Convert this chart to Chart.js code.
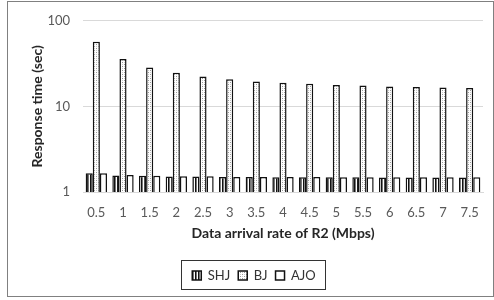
<!DOCTYPE html>
<html>
<head>
<meta charset="utf-8">
<script src="https://cdn.jsdelivr.net/npm/chart.js@4.4.1/dist/chart.umd.min.js"></script>
<style>
body{margin:0;background:#fff}
canvas{display:block}
</style>
</head>
<body>
<canvas id="c" width="494" height="300"></canvas>
<script>

/* DATA */

const rates=["0.5","1","1.5","2","2.5","3","3.5","4","4.5","5","5.5","6","6.5","7","7.5"]
const shj=[1.66,1.56,1.55,1.52,1.52,1.5,1.5,1.49,1.49,1.49,1.49,1.48,1.48,1.48,1.48]
const bj=[57,35.8,28.5,24.8,22.3,20.8,19.6,18.9,18.4,17.8,17.5,17.1,16.8,16.6,16.4]
const ajo=[1.66,1.58,1.55,1.53,1.53,1.5,1.5,1.5,1.5,1.49,1.49,1.49,1.49,1.49,1.49]
const yTicks=[1,10,100]


/* PATTERNS */

function stripes(){
let p=document.createElement("canvas")
p.width=3
p.height=1
let g=p.getContext("2d")
g.fillStyle="#fff"
g.fillRect(0,0,3,1)
g.fillStyle="#111"
g.fillRect(0,0,1,1)
g.fillStyle="#777"
g.fillRect(1,0,1,1)
return g.createPattern(p,"repeat")
}

function dots(){
let p=document.createElement("canvas")
p.width=4
p.height=4
let g=p.getContext("2d")
g.fillStyle="#fff"
g.fillRect(0,0,4,4)
g.fillStyle="#999"
g.fillRect(0,0,1,1)
g.fillRect(2,2,1,1)
g.fillStyle="#ccc"
g.fillRect(2,0,1,1)
g.fillRect(0,2,1,1)
return g.createPattern(p,"repeat")
}


/* FRAME + LEGEND BOX */

const frame={
id:"frame",
beforeDraw(chart){
let ctx=chart.ctx
ctx.save()
ctx.fillStyle="#fff"
ctx.fillRect(0,0,chart.width,chart.height)
ctx.strokeStyle="#808080"
ctx.lineWidth=1
ctx.strokeRect(7.5,1.5,486,295)
ctx.restore()
},
afterDraw(chart){
let b=chart.legend.legendHitBoxes
if(!b||!b.length)return
let l=Math.min(...b.map(h=>h.left))-11
let r=Math.max(...b.map(h=>h.left+h.width))+10
let c=b[0].top+b[0].height/2
let ctx=chart.ctx
ctx.save()
ctx.strokeStyle="#333"
ctx.lineWidth=1
ctx.strokeRect(Math.round(l)+0.5,Math.round(c-16)+0.5,Math.round(r-l),29)
ctx.restore()
}
}

const ds=(label,data,bg)=>({
label:label,
data:data,
backgroundColor:bg,
borderColor:"#111",
borderWidth:1.5,
categoryPercentage:0.8,
barPercentage:1
})

new Chart(document.getElementById("c"),{

type:"bar",

data:{
labels:rates,
datasets:[
ds("SHJ",shj,stripes()),
ds("BJ",bj,dots()),
ds("AJO",ajo,"#fff")
]
},

options:{
responsive:false,
animation:false,
layout:{
padding:{left:25,right:11,top:12,bottom:8}
},
plugins:{
legend:{
position:"bottom",
labels:{
font:{family:"Lato",size:13},
color:"#333",
boxWidth:9,
boxHeight:9,
padding:8
}
},
tooltip:{enabled:false}
},
scales:{
x:{
afterFit(axis){axis.height=69},
grid:{display:false,drawTicks:false},
border:{display:true,color:"#d9d9d9"},
ticks:{
font:{family:"Lato",size:13},
color:"#595959",
padding:13.5,
maxRotation:0,
autoSkip:false
},
title:{
display:true,
text:"Data arrival rate of R2 (Mbps)",
font:{family:"Lato",size:14,weight:"bold"},
color:"#262626",
padding:{top:5,bottom:19.6}
}
},
y:{
type:"logarithmic",
min:1,
max:100,
afterFit(axis){axis.width=58},
afterBuildTicks(axis){
axis.ticks=yTicks.map(v=>({value:v}))
},
grid:{color:"#d9d9d9",drawTicks:false},
border:{display:false},
ticks:{
font:{family:"Lato",size:13},
color:"#595959",
padding:13,
callback:v=>String(v)
},
title:{
display:true,
text:"Response time (sec)",
font:{family:"Lato",size:14,weight:"bold"},
color:"#262626",
padding:{top:4,bottom:-6}
}
}
}
},

plugins:[frame]

})

</script>
</body>
</html>
